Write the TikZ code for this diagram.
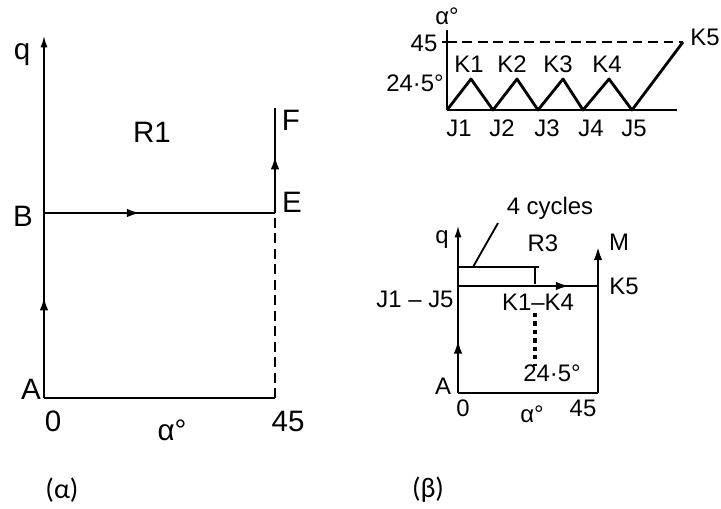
\documentclass[tikz,border=0pt]{standalone}
\usepackage{fontspec}
\setmainfont{Liberation Sans}
\newfontfamily\capfont{Carlito}
\usetikzlibrary{arrows.meta,decorations.markings,calc}

\tikzset{
  axisline/.style={line width=1.1pt,-{Latex[length=8pt,width=5pt]}},
  pathline/.style={line width=2pt},
  thinline/.style={line width=1.3pt},
  longdash/.style={dash pattern=on 7pt off 4pt},
  midarrow/.style={postaction={decorate},
    decoration={markings,mark=at position #1 with {\arrow{Latex[length=10pt,width=6pt]}}}},
  biglbl/.style={font=\fontsize{21}{24}\selectfont, inner sep=1pt},
  lbl/.style={font=\fontsize{17}{20}\selectfont, inner sep=1pt},
  caplbl/.style={font=\capfont\fontsize{20}{23}\selectfont, inner sep=1pt},
}

\begin{document}
\begin{tikzpicture}[x=0.025cm, y=-0.025cm]
  \useasboundingbox (0,0) rectangle (721,508);

  % (a) left diagram
  \coordinate (O1) at (44,398);
  \coordinate (B1) at (44,213);
  \coordinate (E1) at (275,213);
  \coordinate (F1) at (275,108);
  \coordinate (X1) at (275,398);
  \coordinate (Q1) at (44,36);

  \draw[axisline] (B1) -- (Q1);
  \draw[pathline, midarrow=0.55] (O1) -- (B1);
  \draw[pathline, midarrow=0.42] (B1) -- (E1);
  \draw[pathline, midarrow=0.55] (E1) -- (F1);
  \draw[thinline] (O1) -- (X1);
  \draw[thinline, longdash] (X1) -- (E1);

  \node[biglbl] (q1) at (22,55) {q};
  \node[biglbl] (A1) at (31,389) {A};
  \node[biglbl] (Bl) at (23,216) {B};
  \node[biglbl] (El) at (292,202) {E};
  \node[biglbl] (Fl) at (291,120) {F};
  \node[biglbl] (R1) at (152,132) {R1};
  \node[biglbl] (z1) at (53,421) {0};
  \node[biglbl] (a1) at (172,430) {α°};
  \node[biglbl] (f1) at (288,421) {45};
  \node[caplbl] (capa) at (62,490) {(α)};

  % (b) top: alpha against joints
  \coordinate (J1) at (447,110);
  \coordinate (K1) at (471,79);
  \coordinate (J2) at (493,110);
  \coordinate (K2) at (517,79);
  \coordinate (J3) at (538,110);
  \coordinate (K3) at (563,79);
  \coordinate (J4) at (583,110);
  \coordinate (K4) at (609,79);
  \coordinate (J5) at (632,110);
  \coordinate (K5) at (683,42);
  \coordinate (T2) at (447,30);
  \coordinate (H2) at (447,42);
  \coordinate (R2) at (677,110);

  \draw[thinline] (J1) -- (T2);
  \draw[thinline] ($(H2)+(-5,0)$) -- ($(H2)+(5,0)$);
  \draw[thinline, longdash] (H2) -- (K5);
  \draw[pathline] (J1) -- (R2);
  \draw[pathline, line join=round] (J1) -- (K1) -- (J2) -- (K2) -- (J3)
    -- (K3) -- (J4) -- (K4) -- (J5) -- (K5);

  \node[lbl] (a2) at (447,16) {α°};
  \node[lbl] (f2) at (424,43) {45};
  \node[lbl] (t2) at (415,83) {24·5°};
  \foreach \k/\x in {1/469, 2/512, 3/558, 4/607}{
    \node[lbl] (k\k) at (\x,64) {K\k};
  }
  \node[lbl] (k5) at (705,37) {K5};
  \foreach \k/\x in {1/459, 2/502, 3/547, 4/591, 5/634}{
    \node[lbl] (j\k) at (\x,128) {J\k};
  }

  % (b) bottom: q against alpha
  \coordinate (O3) at (458,393);
  \coordinate (Q3) at (458,226);
  \coordinate (L3) at (458,286);
  \coordinate (H3) at (598,286);
  \coordinate (M3) at (598,246);
  \coordinate (X3) at (598,393);
  \coordinate (C3) at (458,267);
  \coordinate (D3) at (535,267);
  \coordinate (G3) at (535,284);
  \coordinate (P3) at (473,267);
  \coordinate (P4) at (498,223);
  \coordinate (V1) at (535,313);
  \coordinate (V2) at (535,366);

  \draw[axisline] (L3) -- (Q3);
  \draw[pathline, midarrow=0.5] (O3) -- (L3);
  \draw[pathline, midarrow=0.8] (L3) -- (H3);
  \draw[pathline] (X3) -- (H3);
  \draw[pathline, -{Latex[length=10pt,width=6pt]}] (H3) -- (M3);
  \draw[pathline] (O3) -- (X3);
  \draw[thinline] (C3) -- (D3) -- (G3);
  \draw[thinline] ($(D3)+(-4,0)$) -- ($(D3)+(4,0)$);
  \draw[thinline] (P3) -- (P4);
  \draw[line width=2.2pt, dash pattern=on 3pt off 3pt] (V1) -- (V2);

  \node[lbl] (q3) at (442,240) {q};
  \node[lbl] (r3) at (543,243) {R3};
  \node[lbl] (m3) at (619,242) {M};
  \node[lbl] (c3) at (550,208) {4 cycles};
  \node[lbl] (k3) at (624,286) {K5};
  \node[lbl] (j3) at (415,299) {J1 – J5};
  \node[lbl] (kk3) at (538,302) {K1–K4};
  \node[lbl] (t3) at (552,373) {24·5°};
  \node[lbl] (A3) at (443,386) {A};
  \node[lbl] (z3) at (463,408) {0};
  \node[lbl] (a3) at (532,414) {α°};
  \node[lbl] (f3) at (583,408) {45};
  \node[caplbl] (capb) at (428,490) {(β)};
\end{tikzpicture}
\end{document}
